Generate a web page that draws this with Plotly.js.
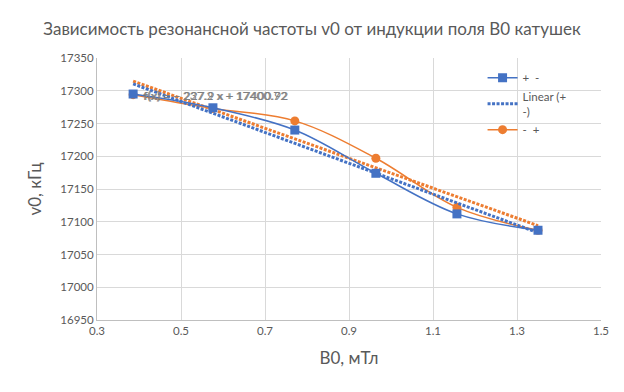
<!DOCTYPE html>
<html><head><meta charset="utf-8">
<script src="https://cdn.plot.ly/plotly-3.0.1.min.js"></script>
<style>html,body{margin:0;padding:0;background:#fff}#c{width:624px;height:392px}</style>
</head><body><div id="c"></div>
<script>
const b0 = [0.386, 0.576, 0.771, 0.964, 1.157, 1.35];
const nuPlusMinus = [17295, 17274, 17240, 17174, 17112, 17087];
const nuMinusPlus = [17294, 17273, 17254, 17197, 17122, 17087];
const xTicks = [0.3, 0.5, 0.7, 0.9, 1.1, 1.3, 1.5];
const yTicks = [16950, 17000, 17050, 17100, 17150, 17200, 17250, 17300, 17350];
const eqLabels = ['f(x) = − 227.9 x + 17400.92', 'f(x) = − 237.2 x + 17400.72'];

function fit(x, y) {
  const n = x.length;
  const mx = x.reduce((a, b) => a + b, 0) / n;
  const my = y.reduce((a, b) => a + b, 0) / n;
  let sxy = 0, sxx = 0;
  for (let i = 0; i < n; i++) { sxy += (x[i] - mx) * (y[i] - my); sxx += (x[i] - mx) ** 2; }
  const k = sxy / sxx;
  return { k: k, b: my - k * mx };
}
const f1 = fit(b0, nuPlusMinus), f2 = fit(b0, nuMinusPlus);
const xEnds = [Math.min(...b0), Math.max(...b0)];
const BLUE = '#4472C4', ORANGE = '#ED7D31';

const data = [
  { x: xEnds, y: xEnds.map(v => f2.k * v + f2.b), name: 'Linear (- +)', mode: 'lines',
    showlegend: false, line: { color: ORANGE, width: 3, dash: '3px,1.5px' } },
  { x: b0, y: nuMinusPlus, name: '-  +', mode: 'lines+markers', legendrank: 3,
    line: { color: ORANGE, width: 1.5, shape: 'spline', smoothing: 1 },
    marker: { symbol: 'circle', size: 9, color: ORANGE } },
  { x: xEnds, y: xEnds.map(v => f1.k * v + f1.b), name: 'Linear (+<br>-)', mode: 'lines', legendrank: 2,
    line: { color: BLUE, width: 3, dash: '3px,1.5px' } },
  { x: b0, y: nuPlusMinus, name: '+  -', mode: 'lines+markers', legendrank: 1,
    line: { color: BLUE, width: 1.5, shape: 'spline', smoothing: 1 },
    marker: { symbol: 'square', size: 9, color: BLUE } }
];

const layout = {
  width: 624, height: 392,
  margin: { l: 97, r: 23, t: 58, b: 72 },
  paper_bgcolor: '#fff', plot_bgcolor: '#fff',
  font: { family: 'Lato, Carlito, sans-serif', color: '#595959' },
  title: { text: 'Зависимость резонансной частоты v0 от индукции поля В0 катушек',
    font: { size: 17, color: '#595959' }, x: 0.5, xanchor: 'center', y: 0.925, yanchor: 'middle' },
  xaxis: { range: [0.3, 1.5], tickvals: xTicks, ticktext: xTicks.map(String),
    showgrid: true, gridcolor: '#d9d9d9', zeroline: false,
    showline: true, linecolor: '#bfbfbf', ticks: '', tickfont: { size: 11.5, color: '#595959' },
    title: { text: 'В0, мТл', font: { size: 17, color: '#595959' }, standoff: 16 } },
  yaxis: { range: [16950, 17350], tickvals: yTicks, ticktext: yTicks.map(String),
    showgrid: true, gridcolor: '#d9d9d9', zeroline: false,
    showline: true, linecolor: '#bfbfbf', ticks: '', tickfont: { size: 11.5, color: '#595959' },
    title: { text: 'v0, кГц', font: { size: 17, color: '#595959' }, standoff: 14 } },
  legend: { x: 0.765, y: 0.98, xanchor: 'left', yanchor: 'top', bgcolor: 'rgba(255,255,255,0)',
    font: { size: 11.5, color: '#595959' }, tracegroupgap: 0 },
  showlegend: true,
  annotations: [
    { x: 0.406, y: 17293, xref: 'x', yref: 'y', text: eqLabels[0], showarrow: false,
      font: { size: 12, color: '#808080' }, xanchor: 'left', yanchor: 'middle' },
    { x: 0.405, y: 17292, xref: 'x', yref: 'y', text: eqLabels[1], showarrow: false,
      font: { size: 12, color: '#808080' }, xanchor: 'left', yanchor: 'middle' }
  ]
};
Plotly.newPlot('c', data, layout, { staticPlot: true });
</script></body></html>
